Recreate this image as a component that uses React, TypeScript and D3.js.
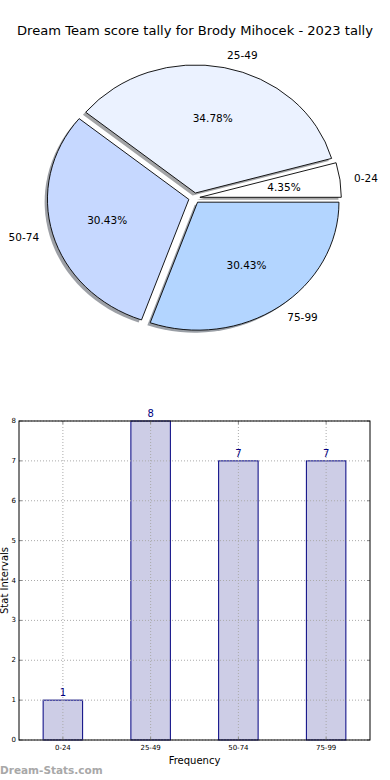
import React from 'react';
import * as d3 from 'd3';

const W = 390;
const H = 780;

const title = 'Dream Team score tally for Brody Mihocek - 2023 tally';
const ranges = ['0-24', '25-49', '50-74', '75-99'];
const counts = [1, 8, 7, 7];
const sliceColors = ['#ffffff', '#ebf2ff', '#c6d8ff', '#b3d5ff'];
const yTicks = [0, 1, 2, 3, 4, 5, 6, 7, 8];

const font = '"DejaVu Sans", Verdana, sans-serif';

// pie geometry (matplotlib style, not axis-equal so it stretches)
const cx = 194.3;
const cy = 198;
const rx = 141.4;
const ry = 128;
const explode = 0.04;

// bar axes box
const bx0 = 19;
const bx1 = 370;
const by0 = 421;
const by1 = 740;

function Pie() {
  const total = d3.sum(counts);
  const arcs = d3
    .pie<number>()
    .sort(null)
    .startAngle(Math.PI / 2)
    .endAngle(Math.PI / 2 - 2 * Math.PI)(counts);
  const arc = d3.arc<d3.PieArcDatum<number>>().innerRadius(0).outerRadius(1);

  return (
    <g>
      {arcs.map((a, i) => {
        const mid = (a.startAngle + a.endAngle) / 2;
        const ox = cx + explode * rx * Math.sin(mid);
        const oy = cy - explode * ry * Math.cos(mid);
        const face = d3.rgb(sliceColors[i]);
        const shadow = d3.rgb(face.r * 0.3, face.g * 0.3, face.b * 0.3).toString();
        return (
          <path
            key={'s' + i}
            d={arc(a) || ''}
            transform={`translate(${ox - 0.02 * rx},${oy + 0.02 * ry}) scale(${rx},${ry})`}
            fill={shadow}
            fillOpacity={0.5}
          />
        );
      })}
      {arcs.map((a, i) => {
        const mid = (a.startAngle + a.endAngle) / 2;
        const ox = cx + explode * rx * Math.sin(mid);
        const oy = cy - explode * ry * Math.cos(mid);
        return (
          <path
            key={'p' + i}
            d={arc(a) || ''}
            transform={`translate(${ox},${oy}) scale(${rx},${ry})`}
            fill={sliceColors[i]}
            stroke="#000"
            strokeWidth={0.9}
            vectorEffect="non-scaling-stroke"
          />
        );
      })}
      {arcs.map((a, i) => {
        const mid = (a.startAngle + a.endAngle) / 2;
        const ux = Math.sin(mid);
        const uy = -Math.cos(mid);
        const lx = cx + (1.1 + explode) * rx * ux;
        const ly = cy + (1.1 + explode) * ry * uy;
        const px = cx + (0.6 + explode) * rx * ux;
        const py = cy + (0.6 + explode) * ry * uy;
        return (
          <g key={'t' + i} fontFamily={font} fontSize={10.5} fill="#000">
            <text x={lx} y={ly} textAnchor={ux > 0 ? 'start' : 'end'} dominantBaseline="central">
              {ranges[i]}
            </text>
            <text x={px} y={py} textAnchor="middle" dominantBaseline="central">
              {((counts[i] / total) * 100).toFixed(2)}%
            </text>
          </g>
        );
      })}
    </g>
  );
}

function Bars() {
  const x = d3.scaleLinear().domain([-0.5, ranges.length - 0.5]).range([bx0, bx1]);
  const y = d3.scaleLinear().domain([0, 8]).range([by1, by0]);
  const bw = x(0.45) - x(0);

  return (
    <g fontFamily={font}>
      {counts.map((c, i) => (
        <rect
          key={'b' + i}
          x={x(i) - bw / 2}
          y={y(c)}
          width={bw}
          height={y(0) - y(c)}
          fill="#cdcde6"
          stroke="#000080"
          strokeWidth={1}
        />
      ))}
      {yTicks.map((t) => (
        <line key={'gy' + t} x1={bx0} x2={bx1} y1={y(t)} y2={y(t)} stroke="#aaa" strokeWidth={1} strokeDasharray="1 2" />
      ))}
      {ranges.map((r, i) => (
        <line key={'gx' + r} x1={x(i)} x2={x(i)} y1={by0} y2={by1} stroke="#aaa" strokeWidth={1} strokeDasharray="1 2" />
      ))}
      {yTicks.map((t) => (
        <g key={'ty' + t}>
          <line x1={bx0} x2={bx0 + 3} y1={y(t)} y2={y(t)} stroke="#888" />
          <line x1={bx1} x2={bx1 - 3} y1={y(t)} y2={y(t)} stroke="#888" />
          <text x={bx0 - 3} y={y(t)} fontSize={7} textAnchor="end" dominantBaseline="central" fill="#000">
            {t}
          </text>
        </g>
      ))}
      {ranges.map((r, i) => (
        <g key={'tx' + r}>
          <line x1={x(i)} x2={x(i)} y1={by1} y2={by1 - 3} stroke="#888" />
          <line x1={x(i)} x2={x(i)} y1={by0} y2={by0 + 3} stroke="#888" />
          <text x={x(i)} y={by1 + 8} fontSize={7} textAnchor="middle" dominantBaseline="central" fill="#000">
            {r}
          </text>
        </g>
      ))}
      <rect x={bx0} y={by0} width={bx1 - bx0} height={by1 - by0} fill="none" stroke="#000" strokeWidth={1} />
      {counts.map((c, i) => (
        <text key={'v' + i} x={x(i)} y={y(c) - 4} fontSize={10} textAnchor="middle" fill="#000080">
          {c}
        </text>
      ))}
      <text x={(bx0 + bx1) / 2} y={760} fontSize={10} textAnchor="middle" dominantBaseline="central" fill="#000">
        Frequency
      </text>
      <text
        transform={`translate(4,${(by0 + by1) / 2}) rotate(-90)`}
        fontSize={10}
        textAnchor="middle"
        dominantBaseline="central"
        fill="#000"
      >
        Stat Intervals
      </text>
    </g>
  );
}

export default function App() {
  return (
    <svg
      width={W}
      height={H}
      viewBox={`0 0 ${W} ${H}`}
      style={{ position: 'absolute', left: 0, top: 0, background: '#fff' }}
    >
      <rect width={W} height={H} fill="#fff" />
      <text x={195} y={30} fontFamily={font} fontSize={13.1} textAnchor="middle" dominantBaseline="central" fill="#000">
        {title}
      </text>
      <Pie />
      <Bars />
      <text x={0} y={770} fontFamily={font} fontSize={10.5} fontWeight="bold" fill="#a8a8a8" dominantBaseline="central">
        Dream-Stats.com
      </text>
    </svg>
  );
}
